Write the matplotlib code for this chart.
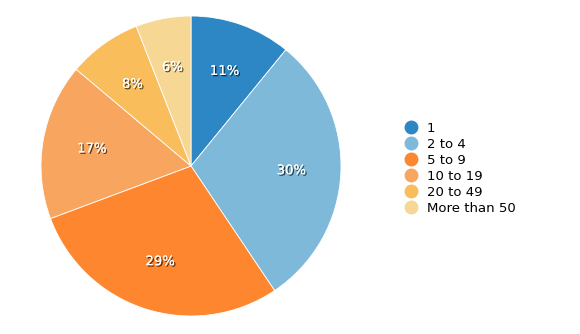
import matplotlib.pyplot as plt
import matplotlib.patheffects as pe
from matplotlib.lines import Line2D
import numpy as np

labels = ['1', '2 to 4', '5 to 9', '10 to 19', '20 to 49', 'More than 50']
shares = [11, 30, 29, 17, 8, 6]
colors = ['#2e87c5', '#7eb9da', '#fd862e', '#f8a55f', '#f9bd5b', '#f7d794']

W, H = 580, 334
fig = plt.figure(figsize=(W / 100, H / 100), dpi=100)

# pie centred at (191, 166) px, radius 150 px
cx, cy, r = 191, 166, 150
ax = fig.add_axes([(cx - r) / W, (H - cy - r) / H, 2 * r / W, 2 * r / H])

wedges, texts = ax.pie(shares, colors=colors, startangle=90, counterclock=False,
                       radius=1, wedgeprops=dict(edgecolor='white', linewidth=0.6))
ax.set_xlim(-1, 1)
ax.set_ylim(-1, 1)
ax.set_aspect('equal')

# percentage labels with a dark drop shadow
total = sum(shares)
start = 90.0
for v in shares:
    sweep = 360.0 * v / total
    mid = np.deg2rad(start - sweep / 2)
    start -= sweep
    ax.text(0.67 * np.cos(mid), 0.67 * np.sin(mid), f'{v}%', ha='center', va='center',
            color='white', fontsize=9.5, family='DejaVu Sans',
            path_effects=[pe.withSimplePatchShadow(offset=(1, -1), shadow_rgbFace='black', alpha=0.7),
                          pe.Normal()])

handles = [Line2D([], [], marker='o', linestyle='none', markersize=9,
                  markerfacecolor=c, markeredgecolor=c) for c in colors]
fig.legend(handles, labels, loc='upper left', bbox_to_anchor=(403 / W, 1 - 122 / H),
           frameon=False, fontsize=9.5, handletextpad=0.6, labelspacing=0.22,
           borderaxespad=0, borderpad=0, handlelength=1.2)

fig.savefig('out.png', dpi=100)
